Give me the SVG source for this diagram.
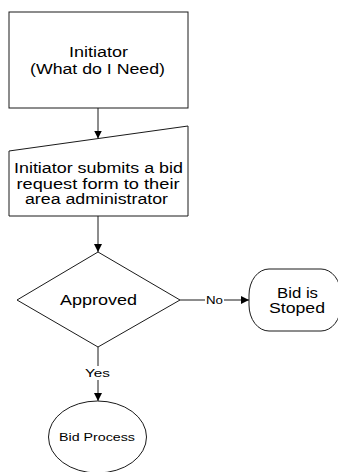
<svg xmlns="http://www.w3.org/2000/svg" width="338" height="472" viewBox="0 0 338 472">
  <defs>
    <marker id="arrow" viewBox="0 0 10 10" refX="10" refY="5" markerWidth="8" markerHeight="8" markerUnits="userSpaceOnUse" orient="auto">
      <path d="M0,0 L10,5 L0,10 Z" fill="#000"/>
    </marker>
    <style>
      .shape { fill: #fff; stroke: #1a1a1a; stroke-width: 1; }
      .edge { fill: none; stroke: #1a1a1a; stroke-width: 1; }
      text { font-family: "Liberation Sans", Arial, sans-serif; fill: #000; text-anchor: middle; }
      .t14 { font-size: 14px; }
      .t15 { font-size: 15px; }
      .t11 { font-size: 11px; }
      .t10 { font-size: 10px; }
    </style>
  </defs>
  <rect width="338" height="472" fill="#fff"/>

  <!-- connectors -->
  <g id="connectors">
    <line class="edge" x1="98" y1="108" x2="98" y2="138.5" marker-end="url(#arrow)"/>
    <line class="edge" x1="98" y1="216" x2="98" y2="252" marker-end="url(#arrow)"/>
    <line class="edge" x1="180" y1="300" x2="205" y2="300"/>
    <line class="edge" x1="224" y1="300" x2="249" y2="300" marker-end="url(#arrow)"/>
    <text class="t10" x="214.5" y="304" textLength="17" lengthAdjust="spacingAndGlyphs">No</text>
    <line class="edge" x1="98" y1="347" x2="98" y2="366"/>
    <line class="edge" x1="98" y1="380" x2="98" y2="401" marker-end="url(#arrow)"/>
    <text class="t10" x="97.5" y="377" textLength="25" lengthAdjust="spacingAndGlyphs">Yes</text>
  </g>

  <!-- Initiator box -->
  <g id="initiator">
    <rect class="shape" x="9" y="12" width="179" height="96"/>
    <text class="t14" x="98.5" y="57" textLength="59" lengthAdjust="spacingAndGlyphs">Initiator</text>
    <text class="t14" x="97.5" y="74" textLength="135" lengthAdjust="spacingAndGlyphs">(What do I Need)</text>
  </g>

  <!-- Manual input: bid request form -->
  <g id="bid-request">
    <path class="shape" d="M9,151 L188,126 L188,216 L9,216 Z"/>
    <text class="t14" x="98.5" y="173" textLength="169" lengthAdjust="spacingAndGlyphs">Initiator submits a bid</text>
    <text class="t14" x="98" y="188.5" textLength="163" lengthAdjust="spacingAndGlyphs">request form to their</text>
    <text class="t14" x="96.5" y="204" textLength="143" lengthAdjust="spacingAndGlyphs">area administrator</text>
  </g>

  <!-- Decision -->
  <g id="approved">
    <path class="shape" d="M98,252 L180,300 L98,347 L17,300 Z"/>
    <text class="t15" x="98.5" y="305" textLength="77" lengthAdjust="spacingAndGlyphs">Approved</text>
  </g>

  <!-- Terminator: stopped -->
  <g id="bid-stopped">
    <rect class="shape" x="249" y="269" width="92" height="62" rx="20" ry="26"/>
    <text class="t14" x="297.5" y="298" textLength="41" lengthAdjust="spacingAndGlyphs">Bid is</text>
    <text class="t14" x="297" y="313" textLength="56" lengthAdjust="spacingAndGlyphs">Stoped</text>
  </g>

  <!-- Bid process -->
  <g id="bid-process">
    <ellipse class="shape" cx="97.5" cy="437" rx="49" ry="36"/>
    <text class="t11" x="97" y="441" textLength="76" lengthAdjust="spacingAndGlyphs">Bid Process</text>
  </g>
</svg>
